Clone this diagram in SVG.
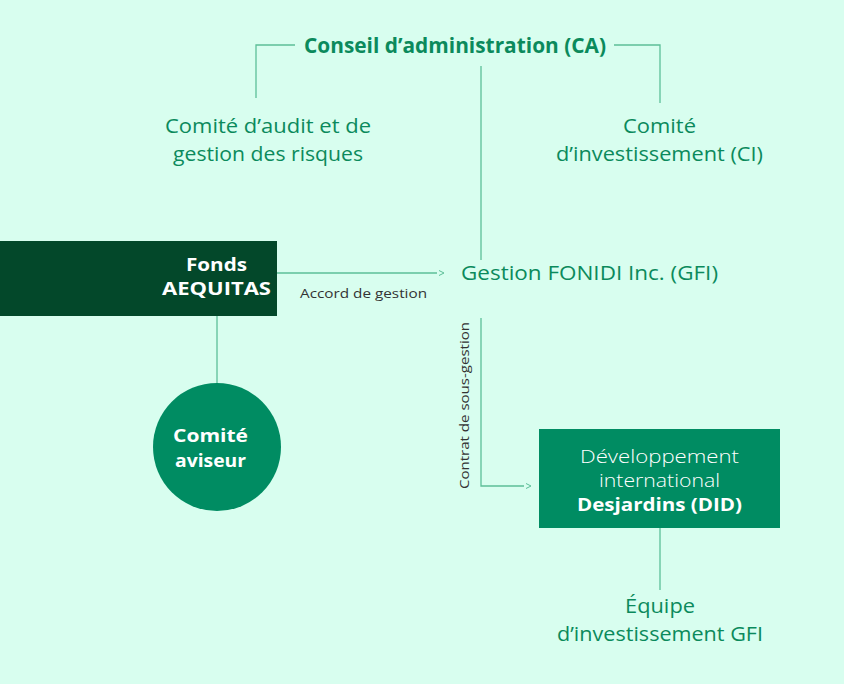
<svg xmlns="http://www.w3.org/2000/svg" width="844" height="684" viewBox="0 0 844 684">
<defs>
<style>
text{font-family:"Open Sans","Noto Sans","Liberation Sans",sans-serif}
.t{fill:#0b8a5c;font-size:20.5px;text-anchor:middle}
.tb{fill:#0b8a5c;font-size:20.5px;font-weight:bold;text-anchor:middle}
.w{fill:#fff;font-size:18px;font-weight:bold;text-anchor:middle}
.wl{fill:#fff;font-size:18px;font-weight:300;text-anchor:middle}
.s{fill:#333;font-size:13.5px}
.c{fill:none;stroke:#5cbf98;stroke-width:1.3}
</style>
<marker id="chev" viewBox="0 0 8 8" refX="0" refY="4" markerWidth="8" markerHeight="8" markerUnits="userSpaceOnUse" orient="auto">
<path d="M2,1.5 L7,4 L2,6.5" fill="none" stroke="#5cbf98" stroke-width="1"/>
</marker>
</defs>
<rect x="0" y="0" width="844" height="684" fill="#d8feef"/>
<g id="connectors">
<path class="c" d="M295,45 H256 V98"/>
<path class="c" d="M614,45 H660 V103"/>
<path class="c" d="M481,66 V260"/>
<path class="c" d="M277,273 H437" marker-end="url(#chev)"/>
<path class="c" d="M481,318 V486 H524" marker-end="url(#chev)"/>
<path class="c" d="M217,316 V383"/>
<path class="c" d="M660,528 V590"/>
<text class="s" x="300" y="298" textLength="127" lengthAdjust="spacingAndGlyphs">Accord de gestion</text>
<text class="s" transform="translate(469,405.5) rotate(-90)" text-anchor="middle" textLength="167" lengthAdjust="spacingAndGlyphs">Contrat de sous-gestion</text>
</g>
<g id="ca"><text class="tb" x="455" y="53" textLength="302" lengthAdjust="spacingAndGlyphs">Conseil d’administration (CA)</text></g>
<g id="audit"><text class="t" x="268" y="133" textLength="206" lengthAdjust="spacingAndGlyphs">Comité d’audit et de</text><text class="t" x="268" y="161" textLength="190" lengthAdjust="spacingAndGlyphs">gestion des risques</text></g>
<g id="ci"><text class="t" x="659.5" y="133" textLength="73" lengthAdjust="spacingAndGlyphs">Comité</text><text class="t" x="659.5" y="161" textLength="207" lengthAdjust="spacingAndGlyphs">d’investissement (CI)</text></g>
<g id="fonds"><rect x="0" y="241" width="277" height="75" fill="#03482a"/><text class="w" x="216.5" y="271" textLength="61" lengthAdjust="spacingAndGlyphs">Fonds</text><text class="w" x="216.5" y="295" textLength="109" lengthAdjust="spacingAndGlyphs">AEQUITAS</text></g>
<g id="gfi"><text class="t" x="589.5" y="280" textLength="257" lengthAdjust="spacingAndGlyphs">Gestion FONIDI Inc. (GFI)</text></g>
<g id="aviseur"><circle cx="217" cy="447" r="64" fill="#008c62"/><text class="w" x="210.5" y="442" textLength="75" lengthAdjust="spacingAndGlyphs">Comité</text><text class="w" x="210.5" y="467" textLength="71" lengthAdjust="spacingAndGlyphs">aviseur</text></g>
<g id="did"><rect x="539" y="429" width="241" height="99" fill="#008c62"/><text class="wl" x="659.5" y="463" textLength="159" lengthAdjust="spacingAndGlyphs">Développement</text><text class="wl" x="659.5" y="487" textLength="121" lengthAdjust="spacingAndGlyphs">international</text><text class="w" x="659.5" y="511" textLength="165" lengthAdjust="spacingAndGlyphs">Desjardins (DID)</text></g>
<g id="equipe"><text class="t" x="660" y="613" textLength="70" lengthAdjust="spacingAndGlyphs">Équipe</text><text class="t" x="660" y="641" textLength="206" lengthAdjust="spacingAndGlyphs">d’investissement GFI</text></g>
</svg>
